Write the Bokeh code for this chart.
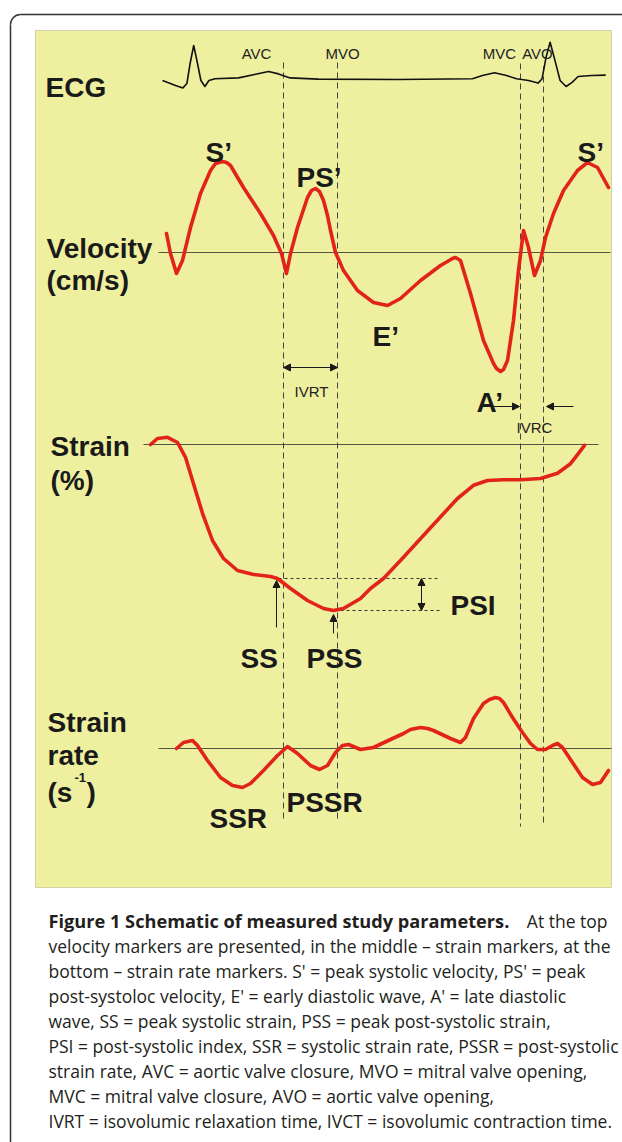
from bokeh.plotting import figure
from bokeh.models import Range1d, Arrow, NormalHead
from bokeh.core.properties import value
from bokeh.embed import file_html
from bokeh.resources import INLINE

# ---------------- data (read from the schematic) ----------------
# time in ms, one cardiac cycle
ecg_t = [-20, 12.5, 31, 41, 49, 58, 66, 76, 86, 96, 111, 170, 210, 245, 270, 299, 369, 568,
         755, 780, 810, 840, 865, 895, 919, 929, 939, 949, 959, 974, 989, 1004, 1019, 1053, 1088]
ecg_mv = [-0.025, -0.15, -0.21, -0.1, 0.4, 0.85, 0.475, -0.025, -0.175, -0.025, 0.02, 0.04, 0.125,
          0.2, 0.14, 0.04, 0.01, 0.0, 0.02, 0.1, 0.17, 0.1, 0.02, -0.025, -0.09, 0.02, 0.56, 0.93,
          0.56, -0.025, -0.175, -0.07, 0.075, 0.1, 0.11]

vel_t = [-10, 0, 15, 30, 50, 75, 100, 112.5, 130, 140, 150, 182.5, 225, 257.5, 277.5, 290, 300,
         317.5, 342.5, 352.5, 362.5, 372.5, 382.5, 392.5, 400, 412.5, 432.5, 467.5, 507.5, 542.5,
         575, 625, 675, 692.5, 705, 712.5, 725, 750, 782.5, 807.5, 815, 825, 832.5, 842.5, 857.5,
         870, 882.5, 895, 910, 925, 937.5, 957.5, 982.5, 1017.5, 1042.5, 1067.5, 1095]
vel_cms = [1.9, -0.1, -2.1, -0.8, 2.5, 5.9, 8.2, 8.9, 9.1, 9.0, 8.7, 6.5, 3.9, 1.7, -0.1, -2.1, -0.1,
           2.5, 5.5, 6.2, 6.4, 6.1, 5.2, 3.7, 2.2, 0.0, -1.8, -3.8, -5.0, -5.3,
           -4.6, -2.8, -1.3, -0.9, -0.6, -0.5, -0.8, -4.1, -8.8, -11.1, -11.6, -11.9, -11.7, -10.8,
           -6.8, -1.8, 2.2, 0.5, -2.3, -0.8, 1.5, 3.9, 6.2, 8.2, 9.0, 8.5, 6.5]

strain_t = [-50, -32.5, -7.5, 17.5, 37.5, 57.5, 80, 105, 132.5, 167.5, 207.5, 250, 267.5, 300,
            342.5, 382.5, 407.5, 432.5, 475, 500, 532.5, 582.5, 650, 717.5, 757.5, 792.5, 832.5,
            875, 925, 967.5, 1000, 1020, 1035]
strain_pct = [0, 0.75, 0.9, 0.25, -1.6, -4.9, -8.6, -12.0, -14.25, -15.75, -16.25, -16.5, -16.75,
              -18.0, -19.5, -20.5, -20.75, -20.5, -19.25, -18.0, -16.75, -14.1, -10.4, -6.75, -5.1,
              -4.5, -4.4, -4.4, -4.25, -3.6, -2.4, -1.1, -0.1]

sr_t = [15, 32.5, 55, 67.5, 92.5, 125, 155, 180, 200, 232.5, 267.5, 292.5, 317.5, 350, 372.5,
        392.5, 412.5, 430, 445, 475, 507.5, 550, 582.5, 600, 625, 642.5, 657.5, 700, 725, 737.5,
        757.5, 782.5, 797.5, 812.5, 822.5, 832.5, 855, 880, 900, 917.5, 937.5, 955, 967.5, 980,
        1005, 1030, 1055, 1075, 1095]
sr_s = [0.0, 0.15, 0.2, 0.075, -0.3, -0.725, -0.925, -0.975, -0.875, -0.55, -0.175, 0.05, -0.125,
        -0.425, -0.525, -0.425, -0.1, 0.075, 0.1, -0.025, 0.025, 0.225, 0.375, 0.475, 0.525, 0.5,
        0.45, 0.25, 0.15, 0.275, 0.75, 1.125, 1.225, 1.275, 1.25, 1.15, 0.775, 0.4, 0.125, -0.025,
        -0.025, 0.075, 0.125, 0.025, -0.35, -0.725, -0.9, -0.85, -0.55]

event_names = ["AVC", "MVO", "MVC", "AVO"]
event_t = [282.5, 417.5, 875, 932.5]

ss_t, ss_val = 270, -16.75     # peak systolic strain
pss_t, pss_val = 410, -20.75   # peak post-systolic strain
psi_ref_t = 675                # right end of PSI guide lines

caption_bold = "Figure 1 Schematic of measured study parameters."
caption_lines = [
    "At the top",
    "velocity markers are presented, in the middle \u2013 strain markers, at the",
    "bottom \u2013 strain rate markers. S' = peak systolic velocity, PS' = peak",
    "post-systoloc velocity, E' = early diastolic wave, A' = late diastolic",
    "wave, SS = peak systolic strain, PSS = peak post-systolic strain,",
    "PSI = post-systolic index, SSR = systolic strain rate, PSSR = post-systolic",
    "strain rate, AVC = aortic valve closure, MVO = mitral valve opening,",
    "MVC = mitral valve closure, AVO = aortic valve opening,",
    "IVRT = isovolumic relaxation time, IVCT = isovolumic contraction time.",
]

# ---------------- styles ----------------
YELLOW = "#eef0a0"
RED = "#e2231a"
INK = "#1a1a1a"
BOLD_FONT = value("Liberation Sans")

p = figure(width=622, height=1142, x_range=Range1d(-425, 1130), y_range=Range1d(1142, 0),
           output_backend="svg", toolbar_location=None, x_axis_location=None,
           y_axis_location=None, min_border=0)
p.extra_x_ranges = {"px": Range1d(0, 622)}
p.extra_y_ranges = {
    "vel": Range1d(-89.0, 25.2),
    "strain": Range1d(-87.25, 55.5),
    "sr": Range1d(-9.85, 18.7),
    "ecg": Range1d(-26.575, 1.975),
}
p.xgrid.visible = False
p.ygrid.visible = False
p.outline_line_color = None
p.background_fill_color = "white"
p.border_fill_color = "white"

# outer rounded frame
p.segment(x0=[20], y0=[14], x1=[622], y1=[14], x_range_name="px", line_color="#333333", line_width=1.5)
p.segment(x0=[10], y0=[24], x1=[10], y1=[1142], x_range_name="px", line_color="#333333", line_width=1.5)
p.bezier(x0=[10], y0=[24], x1=[20], y1=[14], cx0=[10], cy0=[18.5], cx1=[14.5], cy1=[14],
         x_range_name="px", line_color="#333333", line_width=1.5)

# yellow panel
p.quad(left=[35], right=[611], top=[30], bottom=[887], x_range_name="px",
       fill_color=YELLOW, line_color="#d2d2a8", line_width=1)

# zero lines
p.segment(x0=[158], y0=[0], x1=[610], y1=[0], x_range_name="px", y_range_name="vel",
          line_color="#555544", line_width=1.2)
p.segment(x0=[143], y0=[0], x1=[598], y1=[0], x_range_name="px", y_range_name="strain",
          line_color="#555544", line_width=1.2)
p.segment(x0=[158], y0=[0], x1=[611], y1=[0], x_range_name="px", y_range_name="sr",
          line_color="#555544", line_width=1.2)

# event lines
p.segment(x0=event_t, y0=[62, 62, 63, 66], x1=event_t, y1=[822, 822, 826, 826],
          line_color="#444444", line_width=1, line_dash="6 4")

# PSI guide lines
p.segment(x0=[ss_t, pss_t], y0=[ss_val, pss_val], x1=[psi_ref_t, psi_ref_t], y1=[ss_val, pss_val],
          y_range_name="strain", line_color="#333333", line_width=1, line_dash="3 3")

# signals
p.line(ecg_t, ecg_mv, y_range_name="ecg", line_color="#111111", line_width=1.6, line_join="round")
p.line(vel_t, vel_cms, y_range_name="vel", line_color=RED, line_width=3.6, line_join="round", line_cap="round")
p.line(strain_t, strain_pct, y_range_name="strain", line_color=RED, line_width=3.6, line_join="round", line_cap="round")
p.line(sr_t, sr_s, y_range_name="sr", line_color=RED, line_width=3.6, line_join="round", line_cap="round")


def txt(xs, ys, texts, size, bold=True, font=BOLD_FONT, align="left", color=INK):
    p.text(x=xs, y=ys, text=texts, x_range_name="px", text_font=font,
           text_font_size=f"{size}px", text_font_style="bold" if bold else "normal",
           text_align=align, text_baseline="alphabetic", text_color=color)


def arrow(x0, y0, x1, y1, both=False, xr="px", yr="default"):
    def head():
        return NormalHead(size=7, fill_color=INK, line_color=INK, line_width=1)
    p.add_layout(Arrow(end=head(), start=head() if both else None,
                       x_start=x0, y_start=y0, x_end=x1, y_end=y1,
                       line_color=INK, line_width=1, x_range_name=xr, y_range_name=yr))


# panel titles
txt([45], [87], ["ECG"], 28)
txt([46, 46], [248, 280], ["Velocity", "(cm/s)"], 28)
txt([50, 50], [446, 480], ["Strain", "(%)"], 28)
txt([47, 47, 47], [722, 755, 792], ["Strain", "rate", "(s"], 28)
txt([74], [777], ["-1"], 13)
txt([86], [792], [")"], 28)

# markers
txt([205, 577, 296, 372, 476], [152, 152, 177, 336, 402], ["S\u2019", "S\u2019", "PS\u2019", "E\u2019", "A\u2019"], 28)
txt([240, 306, 450], [658, 658, 605], ["SS", "PSS", "PSI"], 28)
txt([209, 286], [818, 802], ["SSR", "PSSR"], 28)

# event labels
txt([256, 342, 499, 537], [53, 53, 53, 53], event_names, 15, bold=False, align="center", color="#222222")
txt([311, 534], [391, 427], ["IVRT", "IVRC"], 15, bold=False, align="center", color="#222222")

# arrows
arrow(event_t[0], 367, event_t[1], 367, both=True, xr="default")
arrow(492, 406, 519, 406)
arrow(573, 406, 546, 406)
arrow(276, 627, 276, 580)
arrow(333, 633, 333, 614)
arrow(627.5, ss_val, 627.5, pss_val, both=True, xr="default", yr="strain")

# caption
CAP = value("Open Sans")
txt([48], [920], [caption_bold], 18.2, bold=True, font=CAP, color="#231f20")
txt([607], [920], [caption_lines[0]], 17.5, bold=False, font=CAP, align="right", color="#231f20")
txt([48] * 8, [920 + 25.1 * k for k in range(1, 9)], caption_lines[1:], 17.5, bold=False,
    font=CAP, color="#231f20")

open("out.html", "w").write(file_html(p, INLINE))
